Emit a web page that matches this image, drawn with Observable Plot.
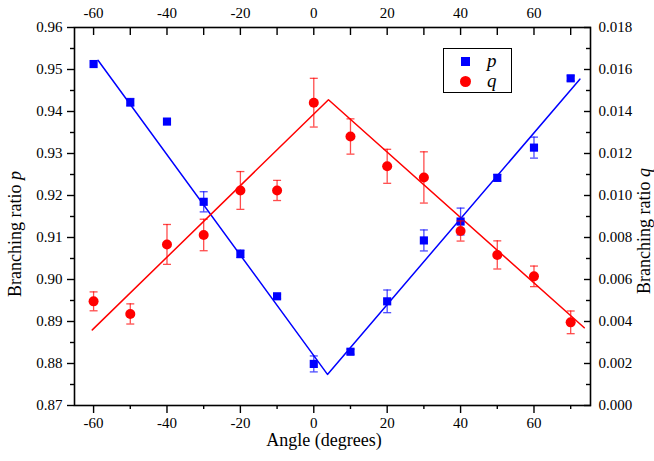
<!DOCTYPE html>
<html><head><meta charset="utf-8">
<script src="https://cdn.jsdelivr.net/npm/d3@7"></script>
<script src="https://cdn.jsdelivr.net/npm/@observablehq/plot@0.6"></script>
<style>
body{margin:0;background:#fff;}
#wrap{position:relative;width:654px;height:461px;}
#legend{position:absolute;left:443px;top:48px;width:69px;height:45px;border:1.2px solid #000;box-sizing:border-box;background:#fff;font-family:'Liberation Serif';font-style:italic;font-size:19px;}
#legend .row{position:absolute;left:0;width:100%;height:20px;}
#legend .sym{position:absolute;}
#legend .lab{position:absolute;left:43px;top:-1px;line-height:20px;}
</style></head><body><div id="wrap"></div>
<script>
// ---- data ----
const angles = [-60,-50,-40,-30,-20,-10,0,10,20,30,40,50,60,70];
const pValues = [0.9513,0.9422,0.9376,0.9185,0.9061,0.8960,0.8799,0.8828,0.8948,0.9093,0.9138,0.9242,0.9314,0.9479];
const pErrors = [0,0.0009,0,0.0024,0.0009,0.0005,0.0019,0.0006,0.0027,0.0025,0.0032,0.0008,0.0025,0.0006];
const qValues = [0.00496,0.00436,0.00767,0.00812,0.01024,0.01024,0.01442,0.01281,0.01139,0.01086,0.00831,0.00717,0.00615,0.00396];
const qErrors = [0.00045,0.00048,0.00095,0.00075,0.0009,0.00048,0.00116,0.00084,0.00081,0.00122,0.00048,0.00067,0.00049,0.00054];
const pFitAngles = [-58.8,3.73,72.5];
const pFitValues = [0.9522,0.8774,0.9477];
const qFitAngles = [-60.35,4.0,73.7];
const qFitValues = [0.0036,0.01456,0.0037];
const xTicks = [-60,-40,-20,0,20,40,60];
const xMinorTicks = [-50,-30,-10,10,30,50,70];
const pTicks = [0.87,0.88,0.89,0.90,0.91,0.92,0.93,0.94,0.95,0.96];
const pMinorTicks = [0.875,0.885,0.895,0.905,0.915,0.925,0.935,0.945,0.955];
const qTicks = [0,0.002,0.004,0.006,0.008,0.010,0.012,0.014,0.016,0.018];
const qMinorTicks = [0.001,0.003,0.005,0.007,0.009,0.011,0.013,0.015,0.017];

// ---- build ----
const blue = "#0000ff", red = "#ff0000";
const pMin = 0.87, pMax = 0.96, qMin = 0, qMax = 0.018;
const qToP = q => pMin + (q - qMin) * (pMax - pMin) / (qMax - qMin);
const pToQ = p => qMin + (p - pMin) * (qMax - qMin) / (pMax - pMin);

const pData = angles.map((a,i)=>({a, v:pValues[i], e:pErrors[i]}));
const qData = angles.map((a,i)=>({a, v:qToP(qValues[i]), lo:qToP(qValues[i]-qErrors[i]), hi:qToP(qValues[i]+qErrors[i]), e:qErrors[i]}));
const pFit = pFitAngles.map((a,i)=>({a, v:pFitValues[i]}));
const qFit = qFitAngles.map((a,i)=>({a, v:qToP(qFitValues[i])}));

const cap = {draw(ctx, size){ const w = Math.sqrt(size/Math.PI); ctx.moveTo(-w,0); ctx.lineTo(w,0); }};
const blank = () => "";
const serif = "Liberation Serif";

const plot = Plot.plot({
  width: 654, height: 461,
  marginLeft: 74, marginRight: 64, marginTop: 27, marginBottom: 56,
  x: {domain: [-65.2, 75.4]},
  y: {domain: [pMin, pMax]},
  style: {fontSize: "15px", color: "#000", background: "#fff"},
  marks: [
    // bottom axis
    Plot.axisX(xTicks, {anchor: "bottom", tickSize: 8, tickPadding: 4, tickFormat: d => String(d), label: null, strokeWidth: 1.4}),
    Plot.axisX(xMinorTicks, {anchor: "bottom", tickSize: 4, tickFormat: blank, label: null, strokeWidth: 1.4}),
    // top axis
    Plot.axisX(xTicks, {anchor: "top", tickSize: 0, tickPadding: 10, tickFormat: d => String(d), label: null}),
    Plot.axisX(xTicks, {anchor: "top", tickSize: -7, tickPadding: 0, tickFormat: blank, label: null, strokeWidth: 1.4}),
    Plot.axisX(xMinorTicks, {anchor: "top", tickSize: -7, tickPadding: 0, tickFormat: blank, label: null, strokeWidth: 1.4}),
    // left axis
    Plot.axisY(pTicks, {anchor: "left", tickSize: 7, tickPadding: 5, tickFormat: d => d.toFixed(2), label: null, strokeWidth: 1.4}),
    Plot.axisY(pMinorTicks, {anchor: "left", tickSize: 4, tickFormat: blank, label: null, strokeWidth: 1.4}),
    // right axis
    Plot.axisY(qTicks.map(qToP), {anchor: "right", tickSize: 0, tickPadding: 8, tickFormat: d => pToQ(d).toFixed(3), label: null}),
    Plot.axisY(qTicks.map(qToP), {anchor: "right", tickSize: -7, tickPadding: 0, tickFormat: blank, label: null, strokeWidth: 1.4}),
    Plot.axisY(qMinorTicks.map(qToP), {anchor: "right", tickSize: -5, tickPadding: 0, tickFormat: blank, label: null, strokeWidth: 1.4}),
    Plot.frame({stroke: "#000", strokeWidth: 1.6}),
    // fit lines
    Plot.line(pFit, {x: "a", y: "v", stroke: blue, strokeWidth: 1.5}),
    Plot.line(qFit, {x: "a", y: "v", stroke: red, strokeWidth: 1.5}),
    // p errors and points
    Plot.ruleX(pData.filter(d => d.e > 0), {x: "a", y1: d => d.v - d.e, y2: d => d.v + d.e, stroke: blue, strokeOpacity: 0.7, strokeWidth: 1.3}),
    Plot.dot(pData.filter(d => d.e > 0), {x: "a", y: d => d.v - d.e, symbol: cap, r: 4, stroke: blue, strokeOpacity: 0.7, strokeWidth: 1.3}),
    Plot.dot(pData.filter(d => d.e > 0), {x: "a", y: d => d.v + d.e, symbol: cap, r: 4, stroke: blue, strokeOpacity: 0.7, strokeWidth: 1.3}),
    Plot.dot(pData, {x: "a", y: "v", symbol: "square", r: 4.6, fill: blue, stroke: "none"}),
    // q errors and points
    Plot.ruleX(qData, {x: "a", y1: "lo", y2: "hi", stroke: red, strokeOpacity: 0.7, strokeWidth: 1.3}),
    Plot.dot(qData, {x: "a", y: "lo", symbol: cap, r: 4, stroke: red, strokeOpacity: 0.7, strokeWidth: 1.3}),
    Plot.dot(qData, {x: "a", y: "hi", symbol: cap, r: 4, stroke: red, strokeOpacity: 0.7, strokeWidth: 1.3}),
    Plot.dot(qData, {x: "a", y: "v", symbol: "circle", r: 5, fill: red, stroke: "none"})
  ]
});

const svg = d3.select(plot);
svg.append("text").attr("x", 324).attr("y", 446).attr("text-anchor", "middle")
  .attr("font-size", 18).attr("fill", "#000").text("Angle (degrees)");
const yl = svg.append("text").attr("transform", "translate(21,234) rotate(-90)").attr("text-anchor", "middle")
  .attr("font-size", 18).attr("fill", "#000");
yl.append("tspan").text("Branching ratio ");
yl.append("tspan").attr("font-style", "italic").text("p");
const yr = svg.append("text").attr("transform", "translate(650,231) rotate(-90)").attr("text-anchor", "middle")
  .attr("font-size", 18).attr("fill", "#000");
yr.append("tspan").text("Branching ratio ");
yr.append("tspan").attr("font-style", "italic").text("q");

// force the serif family on every text
svg.attr("font-family", serif);
plot.style.setProperty("font-family", serif, "important");
svg.selectAll("g").attr("font-family", serif);
svg.selectAll("text, tspan").attr("font-family", serif).each(function(){ this.style.setProperty("font-family", serif, "important"); });

const wrap = document.getElementById("wrap");
wrap.appendChild(plot);
const legend = document.createElement("div");
legend.id = "legend";
legend.innerHTML =
  '<div class="row" style="top:3px"><span class="sym" style="left:17px;top:5px;width:9px;height:9px;background:' + blue + '"></span><span class="lab">p</span></div>' +
  '<div class="row" style="top:23px"><span class="sym" style="left:16px;top:4px;width:11px;height:11px;border-radius:50%;background:' + red + '"></span><span class="lab">q</span></div>';
wrap.appendChild(legend);
</script>
</body></html>
